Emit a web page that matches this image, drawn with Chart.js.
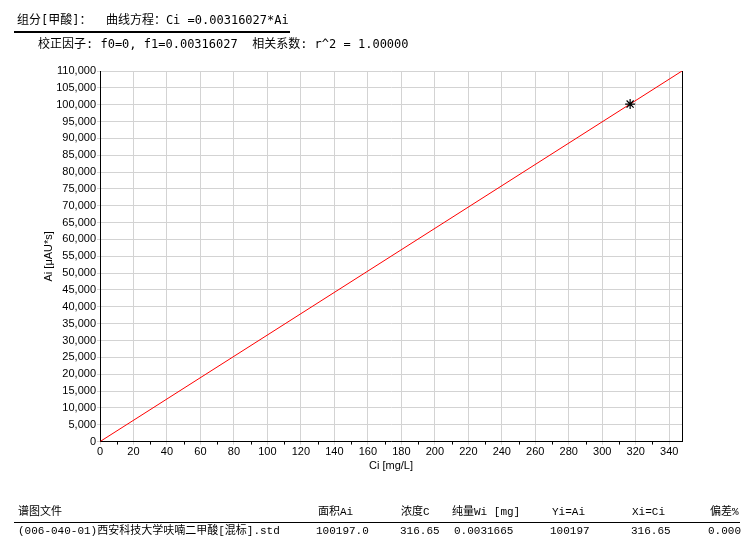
<!DOCTYPE html>
<html>
<head>
<meta charset="utf-8">
<script src="https://cdn.jsdelivr.net/npm/chart.js@4.4.1/dist/chart.umd.min.js"></script>
<style>
  html, body { margin:0; padding:0; background:#fff; }
  body { width:750px; height:553px; position:relative; overflow:hidden; }
  #wrap { position:absolute; left:0; top:0; width:750px; height:553px; }
  .t { position:absolute; white-space:pre; font-family:"DejaVu Sans Mono","Noto Sans CJK SC",monospace; font-size:12px; color:#000; line-height:14px; }
  .s { position:absolute; white-space:pre; font-family:"Liberation Mono","Noto Sans CJK SC",monospace; font-size:11px; color:#000; line-height:13px; }
  .rule { position:absolute; background:#000; }
</style>
</head>
<body>
<div id="wrap"><canvas id="c" width="750" height="553"></canvas></div>
<div class="t" id="h1" style="left:17px; top:13px;"></div>
<div class="rule" style="left:14px; top:31px; width:276px; height:2px;"></div>
<div class="t" id="h2" style="left:38px; top:37px;"></div>
<div class="rule" style="left:14px; top:522px; width:726px; height:1px;"></div>
<div id="table"></div>
<script>
// ---- data ----
const componentName = "甲酸";
const f0 = "0";
const f1 = "0.00316027";
const r2 = "1.00000";
const fitCi = [0, 347.63];          // calibration line, x (mg/L)
const fitAi = [0, 110000];          // calibration line, y (µAU*s)
const stdCi = [316.65];             // standard point, x
const stdAi = [100197];             // standard point, y
const xTickValues = [0,20,40,60,80,100,120,140,160,180,200,220,240,260,280,300,320,340];
const xMinorValues = [10,30,50,70,90,110,130,150,170,190,210,230,250,270,290,310,330];
const yMax = 110000, yStep = 5000, xMax = 347.63;
const tableHeaders = ["谱图文件","面积Ai","浓度C","纯量Wi [mg]","Yi=Ai","Xi=Ci","偏差%"];
const tableRow = ["(006-040-01)西安科技大学呋喃二甲酸[混标].std","100197.0","316.65","0.0031665","100197","316.65","0.000"];
const colLeft = [18, 316, 400, 454, 550, 631, 708];
const headLeft = [18, 318, 401, 452, 552, 632, 710];

document.getElementById('h1').textContent = "组分[" + componentName + "]：  曲线方程：Ci =" + f1 + "*Ai";
document.getElementById('h2').textContent = "校正因子: f0=" + f0 + ", f1=" + f1 + "  相关系数: r^2 = " + r2;

const tbl = document.getElementById('table');
tableHeaders.forEach((h,i)=>{
  const d = document.createElement('div'); d.className='s'; d.textContent=h;
  d.style.left = headLeft[i]+'px'; d.style.top='506px'; tbl.appendChild(d);
});
tableRow.forEach((v,i)=>{
  const d = document.createElement('div'); d.className='s'; d.textContent=v;
  d.style.left = colLeft[i]+'px'; d.style.top='525px'; tbl.appendChild(d);
});

const decor = {
  id:'decor',
  afterDraw(chart){
    const ctx = chart.ctx, a = chart.chartArea, xs = chart.scales.x;
    ctx.save();
    ctx.strokeStyle = '#000'; ctx.lineWidth = 1;
    ctx.beginPath();
    ctx.moveTo(Math.round(a.right)+0.5, a.top); ctx.lineTo(Math.round(a.right)+0.5, a.bottom);
    xMinorValues.forEach(v=>{
      const p = Math.round(xs.getPixelForValue(v))+0.5;
      ctx.moveTo(p, a.bottom); ctx.lineTo(p, a.bottom+3);
    });
    ctx.stroke();
    ctx.restore();
  }
};

const fitData = fitCi.map((x,i)=>({x, y:fitAi[i]}));
const stdData = stdCi.map((x,i)=>({x, y:stdAi[i]}));

new Chart(document.getElementById('c'), {
  type:'scatter',
  data:{ datasets:[
    { data:fitData, showLine:true, borderColor:'#ff0000', borderWidth:1, pointRadius:0, fill:false, order:2 },
    { data:stdData, showLine:false, pointStyle:'star', pointRadius:5, borderColor:'#000', borderWidth:1.2, backgroundColor:'#000', order:1 }
  ]},
  options:{
    responsive:false, animation:false, devicePixelRatio:1,
    layout:{ padding:{ left:40, top:71, right:68, bottom:80 } },
    plugins:{ legend:{display:false}, tooltip:{enabled:false} },
    scales:{
      x:{
        type:'linear', min:0, max:xMax,
        afterBuildTicks(s){ s.ticks = xTickValues.map(v=>({value:v})); },
        ticks:{ color:'#000', font:{family:'Liberation Sans', size:11}, padding:1, maxRotation:0, autoSkip:false },
        grid:{ color:'#d3d3d3', lineWidth:1, tickLength:3, drawTicks:true },
        border:{ color:'#000', width:1 },
        title:{ display:true, text:'Ci [mg/L]', color:'#000', font:{family:'Liberation Sans', size:11}, padding:{top:0,bottom:0} }
      },
      y:{
        type:'linear', min:0, max:yMax,
        ticks:{ stepSize:yStep, color:'#000', font:{family:'Liberation Sans', size:11}, padding:1, autoSkip:false,
          callback:(v)=>v.toLocaleString('en-US') },
        afterFit(s){ s.width = 60; },
        grid:{ color:'#d3d3d3', lineWidth:1, tickLength:3 },
        border:{ color:'#000', width:1 },
        title:{ display:true, text:'Ai [μAU*s]', color:'#000', font:{family:'Liberation Sans', size:11}, padding:{top:2,bottom:0} }
      }
    }
  },
  plugins:[decor]
});
</script>
</body>
</html>
